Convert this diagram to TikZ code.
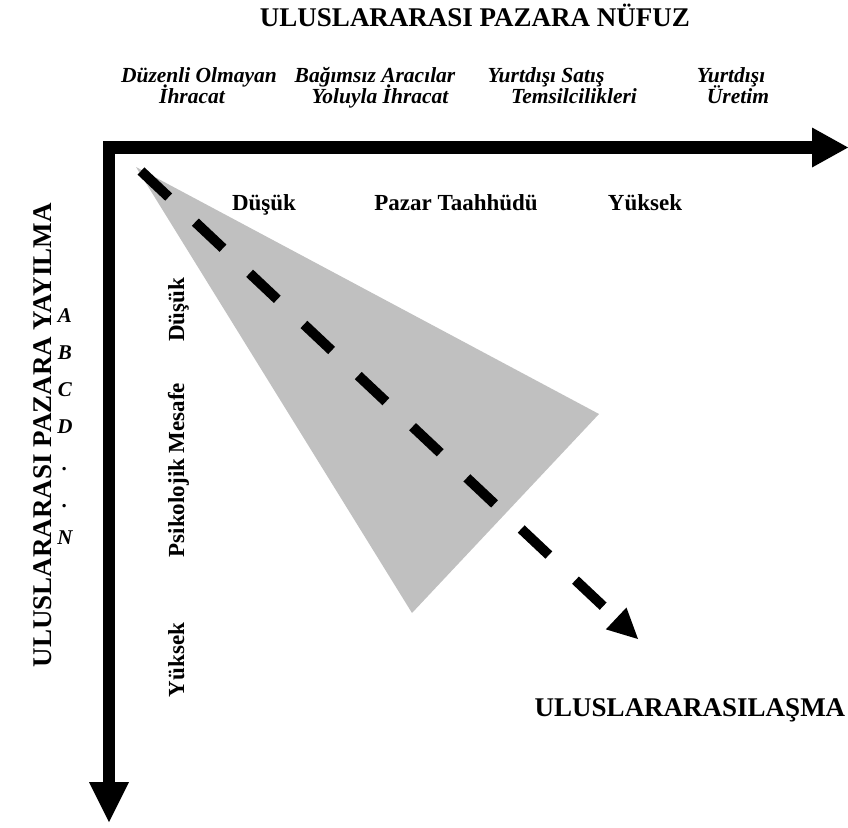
\documentclass[tikz,border=0pt]{standalone}
\usepackage{fontspec}
\setmainfont{Liberation Serif}
\usetikzlibrary{arrows.meta}
\definecolor{coneGray}{RGB}{192,192,192}
\tikzset{
  axisline/.style={line width=12.5pt, line join=miter,
    {Triangle[length=40pt,width=40pt,line width=0pt]}-{Triangle[length=36pt,width=40pt,line width=0pt]}},
  trendline/.style={line width=10pt, line cap=butt, dash pattern=on 38pt off 36.6pt,
    -{Triangle[length=30pt,width=30pt,line width=0pt]}},
  bigcaps/.style={font=\bfseries\fontsize{27}{30}\selectfont, inner sep=0pt, anchor=base},
  modelabel/.style={font=\bfseries\itshape\fontsize{21.5}{24}\selectfont, inner sep=0pt, anchor=base},
  scalelabel/.style={font=\bfseries\fontsize{23}{26}\selectfont, inner sep=0pt, anchor=base},
  marklabel/.style={font=\bfseries\itshape\fontsize{21}{24}\selectfont, inner sep=0pt, anchor=base},
}
\begin{document}
\begin{tikzpicture}[x=1pt,y=-1pt]
\useasboundingbox (0,0) rectangle (848,827);

% axes meeting at the upper left corner
\coordinate (vtip) at (109,822);
\coordinate (corner) at (109,147.5);
\coordinate (htip) at (848,147.5);

% shaded cone of internationalisation
\coordinate (apex) at (136,167);
\coordinate (rightv) at (599,414);
\coordinate (bottomv) at (412,613);
\fill[coneGray] (apex) -- (rightv) -- (bottomv) -- cycle;

\draw[axisline] (vtip) -- (corner) -- (htip);

% dashed trend arrow
\coordinate (trendstart) at (141,171);
\coordinate (trendend) at (638,639);
\draw[trendline] (trendstart) -- (trendend);

% headings
\node[bigcaps] (toptitle) at (475,26) {ULUSLARARASI PAZARA NÜFUZ};
\node[bigcaps, rotate=90] (sidetitle) at (51,435) {ULUSLARARASI PAZARA YAYILMA};
\node[bigcaps] (trendtitle) at (690,716) {ULUSLARARASILAŞMA};

% entry modes
\node[modelabel] (m1a) at (199,82) {Düzenli Olmayan};
\node[modelabel] (m1b) at (192,103) {İhracat};
\node[modelabel] (m2a) at (375,82) {Bağımsız Aracılar};
\node[modelabel] (m2b) at (380,103) {Yoluyla İhracat};
\node[modelabel] (m3a) at (546,82) {Yurtdışı Satış};
\node[modelabel] (m3b) at (574,103) {Temsilcilikleri};
\node[modelabel] (m4a) at (731,82) {Yurtdışı};
\node[modelabel] (m4b) at (738,103) {Üretim};

% market commitment scale
\node[scalelabel] (cLow) at (264,210) {Düşük};
\node[scalelabel] (cMid) at (456,210) {Pazar Taahhüdü};
\node[scalelabel] (cHigh) at (645,210) {Yüksek};

% psychological distance scale
\node[scalelabel, rotate=90] (dLow) at (184,310) {Düşük};
\node[scalelabel, rotate=90] (dMid) at (184,470) {Psikolojik Mesafe};
\node[scalelabel, rotate=90] (dHigh) at (184,660) {Yüksek};

% markets
\node[marklabel] (mkA) at (65,322) {A};
\node[marklabel] (mkB) at (65,359) {B};
\node[marklabel] (mkC) at (65,396) {C};
\node[marklabel] (mkD) at (65,433) {D};
\node[marklabel] (mkE) at (65,470) {.};
\node[marklabel] (mkF) at (65,507) {.};
\node[marklabel] (mkN) at (65,544) {N};
\end{tikzpicture}
\end{document}
